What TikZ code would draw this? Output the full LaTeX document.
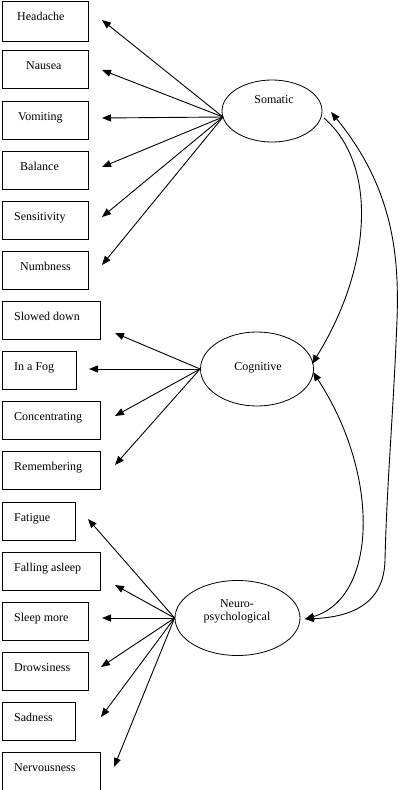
\documentclass[tikz,border=0pt]{standalone}
\usepackage{fontspec}
\setmainfont{Liberation Serif}
\usetikzlibrary{shapes.geometric,arrows.meta}
\begin{document}
\begin{tikzpicture}[x=1pt,y=-1pt,
  box/.style={draw, line width=0.8pt, rectangle, anchor=north west, inner sep=0pt, minimum height=38pt},
  lbl/.style={anchor=base west, inner sep=0pt, font=\fontsize{12}{14}\selectfont},
  flbl/.style={inner sep=0pt, align=center, font=\fontsize{12}{13}\selectfont},
  fac/.style={draw, ellipse, line width=0.8pt, inner sep=0pt},
  ld/.style={line width=0.9pt, -{Triangle[length=9pt,width=7pt]}},
  cor/.style={line width=0.9pt}
]
\useasboundingbox (0,0) rectangle (400,790);
% indicator boxes
\node[box, minimum width=86pt, minimum height=40pt] (b1) at (2,1) {};
\node[box, minimum width=86pt] (b2) at (2,50) {};
\node[box, minimum width=86pt] (b3) at (2,101) {};
\node[box, minimum width=86pt] (b4) at (2,151) {};
\node[box, minimum width=86pt] (b5) at (2,201) {};
\node[box, minimum width=86pt] (b6) at (2,251) {};
\node[box, minimum width=98pt] (b7) at (2,301) {};
\node[box, minimum width=74pt] (b8) at (2,351) {};
\node[box, minimum width=98pt] (b9) at (2,401) {};
\node[box, minimum width=98pt] (b10) at (2,451) {};
\node[box, minimum width=73pt] (b11) at (2,502) {};
\node[box, minimum width=98pt] (b12) at (2,552) {};
\node[box, minimum width=86pt] (b13) at (2,602) {};
\node[box, minimum width=86pt] (b14) at (2,652) {};
\node[box, minimum width=73pt] (b15) at (2,702) {};
\node[box, minimum width=98pt] (b16) at (2,752) {};
% labels
\node[lbl] (t1) at (17,20) {Headache};
\node[lbl] (t2) at (26,69) {Nausea};
\node[lbl] (t3) at (18,120) {Vomiting};
\node[lbl] (t4) at (20,170) {Balance};
\node[lbl] (t5) at (14,220) {Sensitivity};
\node[lbl] (t6) at (20,270) {Numbness};
\node[lbl] (t7) at (14,320) {Slowed down};
\node[lbl] (t8) at (14,370) {In a Fog};
\node[lbl] (t9) at (14,420) {Concentrating};
\node[lbl] (t10) at (14,470) {Remembering};
\node[lbl] (t11) at (14,521) {Fatigue};
\node[lbl] (t12) at (14,571) {Falling asleep};
\node[lbl] (t13) at (14,621) {Sleep more};
\node[lbl] (t14) at (14,671) {Drowsiness};
\node[lbl] (t15) at (14,721) {Sadness};
\node[lbl] (t16) at (14,771) {Nervousness};
% factors
\node[fac, minimum width=100pt, minimum height=62pt] (som) at (272,111) {};
\node[fac, minimum width=113pt, minimum height=74pt] (cog) at (257,369) {};
\node[fac, minimum width=125pt, minimum height=75pt] (neu) at (237.5,618) {};
\node[flbl] (somt) at (274,100) {Somatic};
\node[flbl] (cogt) at (258,368) {Cognitive};
\node[flbl] (neut) at (237,611) {Neuro-\\psychological};
% arrow ends
\coordinate (ssrc) at (223,117);
\coordinate (csrc) at (cog.west);
\coordinate (nsrc) at (neu.west);
\coordinate (p1) at (102,20);
\coordinate (p2) at (102,70);
\coordinate (p3) at (102,118);
\coordinate (p4) at (102,167);
\coordinate (p5) at (102,217);
\coordinate (p6) at (102,265);
\coordinate (p7) at (115,333);
\coordinate (p8) at (89,369);
\coordinate (p9) at (115,416);
\coordinate (p10) at (115,465);
\coordinate (p11) at (88,519);
\coordinate (p12) at (115,585);
\coordinate (p13) at (102,618);
\coordinate (p14) at (101,667);
\coordinate (p15) at (101,717);
\coordinate (p16) at (114,767);
\foreach \i in {1,...,6} \draw[ld] (ssrc) -- (p\i);
\foreach \i in {7,...,10} \draw[ld] (csrc) -- (p\i);
\foreach \i in {11,...,16} \draw[ld] (nsrc) -- (p\i);
% correlations
\coordinate (sA) at (324,118);
\coordinate (cA) at (312,364);
\coordinate (cB) at (313,372);
\coordinate (nB) at (305,619);
\coordinate (sC) at (331,112);
\draw[ld] (sA) .. controls (379,166) and (371,269) .. (cA);
\draw[ld, {Triangle[length=9pt,width=7pt]}-{Triangle[length=9pt,width=7pt]}] (cB) .. controls (381,476) and (377,598) .. (nB);
\draw[ld, {Triangle[length=9pt,width=7pt]}-{Triangle[length=9pt,width=7pt]}] (sC) .. controls (395,190) and (399,260) .. (397,320) .. controls (393,420) and (387,480) .. (385,560) .. controls (384,605) and (350,617) .. (nB);
\end{tikzpicture}
\end{document}
